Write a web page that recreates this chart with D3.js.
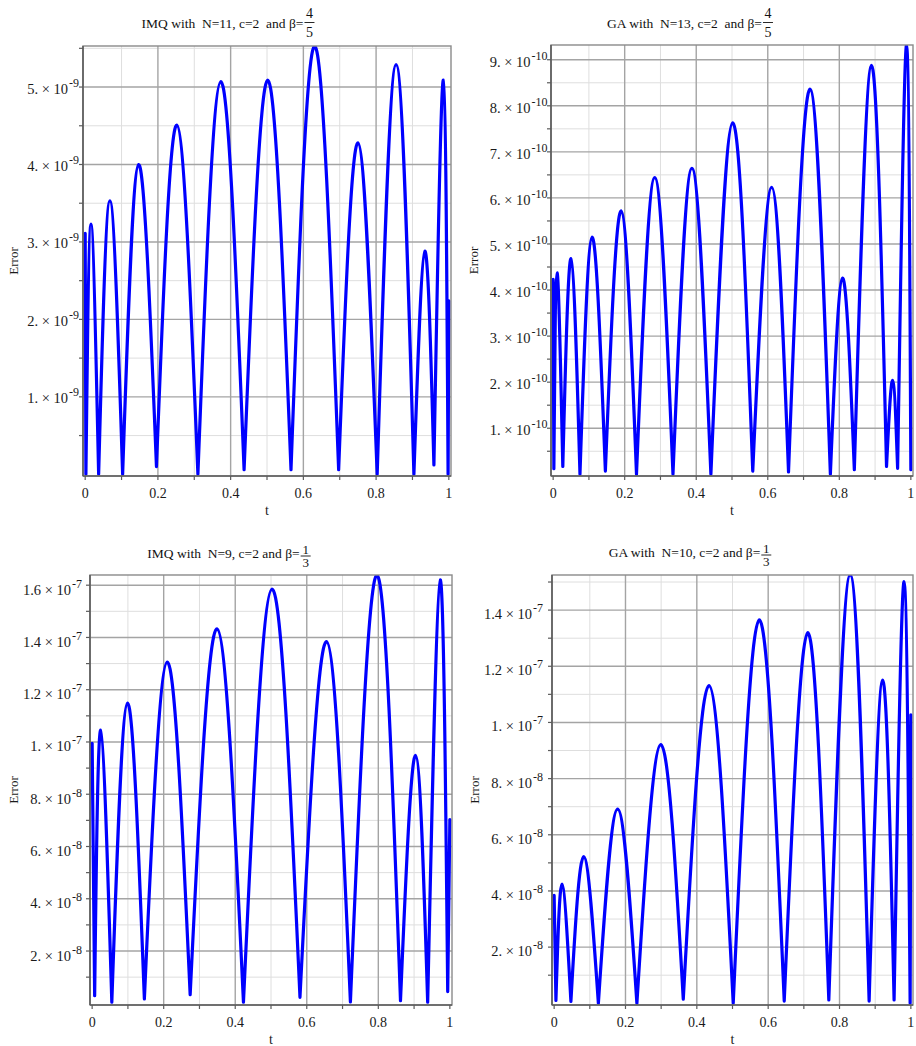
<!DOCTYPE html>
<html>
<head>
<meta charset="utf-8">
<script src="https://cdn.jsdelivr.net/npm/d3@7"></script>
<style>
  body { margin: 0; background: #fff; }
  svg { display: block; font-family: "Liberation Serif", "Times New Roman", serif; }
</style>
</head>
<body>
<svg id="chart" width="916" height="1046"></svg>
<script>
// Absolute error |u(t) - u_N(t)| on [0,1]: the curve is given by its turning
// points (start value, alternating minima / maxima, end value).

// IMQ, N=11, c=2, beta=4/5
const imq11T   = [0, 0.002, 0.016, 0.037, 0.068, 0.103, 0.147, 0.196, 0.252, 0.310, 0.373, 0.437, 0.502,
                  0.566, 0.631, 0.697, 0.750, 0.803, 0.855, 0.904, 0.934, 0.959, 0.985, 0.998, 1.0];
const imq11Err = [3.11e-9, 0, 3.23e-9, 0, 3.53e-9, 0, 4.00e-9, 0.10e-9, 4.51e-9, 0, 5.07e-9, 0.06e-9, 5.09e-9,
                  0.06e-9, 5.53e-9, 0.06e-9, 4.28e-9, 0, 5.29e-9, 0, 2.88e-9, 0.12e-9, 5.09e-9, 0, 2.24e-9];
const imq11Ticks = [1e-9, 2e-9, 3e-9, 4e-9, 5e-9];

// GA, N=13, c=2, beta=4/5
const ga13T   = [0, 0.002, 0.011, 0.027, 0.050, 0.075, 0.109, 0.146, 0.190, 0.233, 0.284, 0.335, 0.388, 0.441,
                 0.502, 0.558, 0.611, 0.658, 0.718, 0.775, 0.809, 0.842, 0.890, 0.932, 0.949, 0.963, 0.988, 1.0];
const ga13Err = [4.23e-10, 0.12e-10, 4.37e-10, 0.17e-10, 4.68e-10, 0, 5.15e-10, 0.07e-10, 5.72e-10, 0, 6.44e-10, 0,
                 6.64e-10, 0, 7.63e-10, 0.07e-10, 6.23e-10, 0.05e-10, 8.36e-10, 0, 4.26e-10, 0.10e-10, 8.88e-10,
                 0.17e-10, 2.04e-10, 0.13e-10, 9.32e-10, 0.10e-10];
const ga13Ticks = [1e-10, 2e-10, 3e-10, 4e-10, 5e-10, 6e-10, 7e-10, 8e-10, 9e-10];

// IMQ, N=9, c=2, beta=1/3
const imq9T   = [0, 0.007, 0.024, 0.055, 0.099, 0.146, 0.210, 0.274, 0.349, 0.423, 0.503, 0.581, 0.655, 0.722,
                 0.796, 0.862, 0.904, 0.938, 0.973, 0.994, 1.0];
const imq9Err = [9.95e-8, 0.29e-8, 10.45e-8, 0.04e-8, 11.49e-8, 0.17e-8, 13.06e-8, 0.33e-8, 14.33e-8, 0.04e-8,
                 15.85e-8, 0.23e-8, 13.84e-8, 0.05e-8, 16.39e-8, 0.10e-8, 9.49e-8, 0.04e-8, 16.2e-8, 0.45e-8, 7.03e-8];
const imq9Ticks = [2e-8, 4e-8, 6e-8, 8e-8, 1e-7, 1.2e-7, 1.4e-7, 1.6e-7];

// GA, N=10, c=2, beta=1/3
const ga10T   = [0, 0.005, 0.022, 0.047, 0.083, 0.124, 0.178, 0.232, 0.299, 0.362, 0.434, 0.502, 0.575, 0.645,
                 0.711, 0.770, 0.830, 0.883, 0.921, 0.953, 0.981, 0.998, 1.0];
const ga10Err = [3.84e-8, 0.10e-8, 4.24e-8, 0.07e-8, 5.22e-8, 0, 6.91e-8, 0, 9.21e-8, 0.15e-8, 11.31e-8, 0,
                 13.65e-8, 0.08e-8, 13.2e-8, 0.12e-8, 15.25e-8, 0.08e-8, 11.51e-8, 0.12e-8, 15.01e-8, 0, 10.27e-8];
const ga10Ticks = [2e-8, 4e-8, 6e-8, 8e-8, 1e-7, 1.2e-7, 1.4e-7];

// shared t axis
const tTicks = [0, 0.2, 0.4, 0.6, 0.8, 1];
const tTickLabels = ["0", "0.2", "0.4", "0.6", "0.8", "1"];
const tMinor = [0.1, 0.3, 0.5, 0.7, 0.9];

const panels = [
  { title: "IMQ with  N=11, c=2  and \u03b2=", num: "4", den: "5", t: imq11T, err: imq11Err, ticks: imq11Ticks,
    box: { l: 83, r: 451, t: 46, b: 476 }, titleCx: 228, titleY: 28, errX: 18,
    labGap: 4, labDy: 6.5, frac: { size: 14, bar: -5.5, num: -4.5, den: 14.5 } },
  { title: "GA with  N=13, c=2  and \u03b2=", num: "4", den: "5", t: ga13T, err: ga13Err, ticks: ga13Ticks,
    box: { l: 551, r: 913, t: 45, b: 476 }, titleCx: 690, titleY: 28, errX: 478,
    labGap: 3.5, labDy: 7, frac: { size: 14, bar: -5.5, num: -4.5, den: 14.5 } },
  { title: "IMQ with  N=9, c=2 and \u03b2=", num: "1", den: "3", t: imq9T, err: imq9Err, ticks: imq9Ticks,
    box: { l: 90, r: 452, t: 575, b: 1005 }, titleCx: 229, titleY: 558, errX: 18,
    labGap: 8, labDy: 9.5, frac: { size: 13, bar: -2, num: -2.5, den: 11 } },
  { title: "GA with  N=10, c=2 and \u03b2=", num: "1", den: "3", t: ga10T, err: ga10Err, ticks: ga10Ticks,
    box: { l: 552, r: 913, t: 575, b: 1005 }, titleCx: 690, titleY: 557, errX: 479,
    labGap: 9, labDy: 9, frac: { size: 13, bar: -2, num: -2.5, den: 11 } }
];

const svg = d3.select("#chart");

// "5. × 10^-9" style label parts
function sciParts(v) {
  const e = Math.floor(Math.log10(v) + 1e-9);
  const m = +(v / Math.pow(10, e)).toFixed(1);
  const ms = Number.isInteger(m) ? m + "." : String(m);
  return [ms, String(e)];
}

// split the turning-point list into single arches between consecutive minima
function arches(t, v) {
  const cuts = [0];
  for (let i = 1; i < v.length - 1; i++) if (v[i] < v[i - 1] && v[i] < v[i + 1]) cuts.push(i);
  cuts.push(v.length - 1);
  const segs = [];
  for (let k = 0; k < cuts.length - 1; k++) {
    segs.push(d3.range(cuts[k], cuts[k + 1] + 1).map(i => [t[i], v[i]]));
  }
  return segs;
}

panels.forEach((p, idx) => {
  const B = p.box;
  const yMax = d3.max(p.err);
  const x = d3.scaleLinear().domain([-0.006, 1.006]).range([B.l, B.r]);
  const y = d3.scaleLinear().domain([-0.004 * yMax, yMax]).range([B.b, B.t]);
  const g = svg.append("g");

  const step = p.ticks[1] - p.ticks[0];
  const yMinor = [];
  for (let k = 0; k < 40; k++) {
    const v = step / 2 + k * step;
    if (v < yMax) yMinor.push(v);
  }

  // minor grid
  g.selectAll(".gxm").data(tMinor).join("line")
    .attr("x1", d => x(d)).attr("x2", d => x(d)).attr("y1", B.t).attr("y2", B.b)
    .attr("stroke", "#dedede").attr("stroke-width", 1);
  g.selectAll(".gym").data(yMinor).join("line")
    .attr("x1", B.l).attr("x2", B.r).attr("y1", d => y(d)).attr("y2", d => y(d))
    .attr("stroke", "#dedede").attr("stroke-width", 1);
  // major grid
  g.selectAll(".gx").data(tTicks.slice(1, -1)).join("line")
    .attr("x1", d => x(d)).attr("x2", d => x(d)).attr("y1", B.t).attr("y2", B.b)
    .attr("stroke", "#a4a4a4").attr("stroke-width", 1.4);
  g.selectAll(".gy").data(p.ticks).join("line")
    .attr("x1", B.l).attr("x2", B.r).attr("y1", d => y(d)).attr("y2", d => y(d))
    .attr("stroke", "#a4a4a4").attr("stroke-width", 1.4);

  // curve
  const clipId = "clip" + idx;
  svg.append("clipPath").attr("id", clipId).append("rect")
    .attr("x", B.l).attr("y", B.t).attr("width", B.r - B.l).attr("height", B.b - B.t);
  const line = d3.line().x(d => x(d[0])).y(d => y(d[1])).curve(d3.curveNatural);
  g.append("path")
    .attr("clip-path", `url(#${clipId})`)
    .attr("d", arches(p.t, p.err).map(s => line(s)).join(""))
    .attr("fill", "none").attr("stroke", "#0000ff").attr("stroke-width", 3.2)
    .attr("stroke-linecap", "round").attr("stroke-linejoin", "round");

  // frame
  g.append("rect").attr("x", B.l).attr("y", B.t).attr("width", B.r - B.l).attr("height", B.b - B.t)
    .attr("fill", "none").attr("stroke", "#8a8a8a").attr("stroke-width", 1.4);
  g.append("line").attr("x1", B.l).attr("x2", B.l).attr("y1", B.t).attr("y2", B.b)
    .attr("stroke", "#5c5c5c").attr("stroke-width", 1.6);
  g.append("line").attr("x1", B.l).attr("x2", B.r).attr("y1", B.b).attr("y2", B.b)
    .attr("stroke", "#5c5c5c").attr("stroke-width", 1.6);

  // ticks
  g.selectAll(".tx").data(tTicks.concat(tMinor)).join("line")
    .attr("x1", d => x(d)).attr("x2", d => x(d)).attr("y1", B.b).attr("y2", B.b + 4)
    .attr("stroke", "#5c5c5c").attr("stroke-width", 1.2);
  g.selectAll(".ty").data(p.ticks.concat(yMinor)).join("line")
    .attr("x1", B.l - 4).attr("x2", B.l).attr("y1", d => y(d)).attr("y2", d => y(d))
    .attr("stroke", "#5c5c5c").attr("stroke-width", 1.2);

  // t tick labels
  g.selectAll(".lx").data(tTicks).join("text")
    .attr("x", d => x(d)).attr("y", B.b + 22)
    .attr("text-anchor", "middle").attr("font-size", 14).attr("fill", "#1a1a1a")
    .text((d, i) => tTickLabels[i]);

  // error tick labels
  p.ticks.forEach(v => {
    const [ms, ex] = sciParts(v);
    const tx = g.append("text").attr("x", B.l - p.labGap).attr("y", y(v) + p.labDy)
      .attr("text-anchor", "end").attr("font-size", 14.5).attr("fill", "#1a1a1a")
      .style("white-space", "pre");
    tx.append("tspan").text(ms + " \u00d7 10");
    tx.append("tspan").attr("dx", 1).attr("dy", -7).attr("font-size", 12).text(ex);
  });

  // axis titles
  g.append("text").attr("x", (B.l + B.r) / 2).attr("y", B.b + 39)
    .attr("text-anchor", "middle").attr("font-size", 14).attr("fill", "#1a1a1a").text("t");
  g.append("text")
    .attr("transform", `translate(${p.errX},${(B.t + B.b) / 2}) rotate(-90)`)
    .attr("text-anchor", "middle").attr("font-size", 13).attr("fill", "#1a1a1a").text("Error");

  // title with stacked fraction
  const tt = g.append("text").attr("y", p.titleY).attr("font-size", 13.5).attr("fill", "#111")
    .style("white-space", "pre").text(p.title);
  const w = tt.node().getComputedTextLength();
  const fw = 10;
  const x0 = p.titleCx - (w + fw + 1) / 2;
  tt.attr("x", x0);
  const fc = x0 + w + 1 + fw / 2;
  const bar = p.titleY + p.frac.bar;
  g.append("line").attr("x1", fc - fw / 2).attr("x2", fc + fw / 2).attr("y1", bar).attr("y2", bar)
    .attr("stroke", "#111").attr("stroke-width", 0.9);
  g.append("text").attr("x", fc).attr("y", bar + p.frac.num).attr("text-anchor", "middle")
    .attr("font-size", p.frac.size).attr("fill", "#111").text(p.num);
  g.append("text").attr("x", fc).attr("y", bar + p.frac.den).attr("text-anchor", "middle")
    .attr("font-size", p.frac.size).attr("fill", "#111").text(p.den);
});
</script>
</body>
</html>
